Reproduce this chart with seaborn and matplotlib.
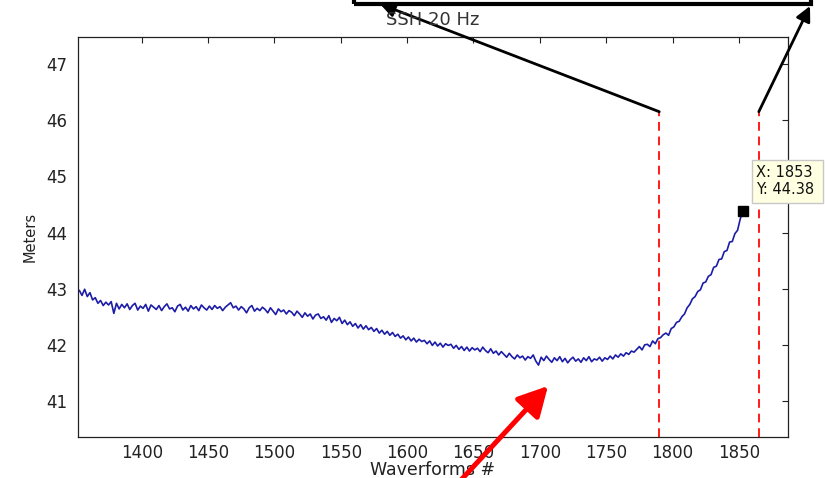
import numpy as np
import pandas as pd
import matplotlib
matplotlib.use("Agg")
import matplotlib.pyplot as plt
from matplotlib.patches import Rectangle, FancyArrowPatch
import seaborn as sns

# ---------------- data ----------------
waveform_start = 1353
waveform_step = 2
ssh_values = [
    42.97, 42.88, 42.99, 42.86, 42.93, 42.80, 42.84, 42.74, 42.79, 42.70,
    42.76, 42.71, 42.77, 42.56, 42.74, 42.64, 42.72, 42.66, 42.73, 42.63,
    42.70, 42.74, 42.62, 42.69, 42.65, 42.72, 42.60, 42.71, 42.67, 42.63,
    42.70, 42.61, 42.68, 42.73, 42.64, 42.66, 42.59, 42.69, 42.72, 42.62,
    42.67, 42.60, 42.70, 42.64, 42.68, 42.61, 42.71, 42.66, 42.62, 42.69,
    42.63, 42.70, 42.65, 42.68, 42.61, 42.67, 42.71, 42.75, 42.66, 42.69,
    42.62, 42.68, 42.64, 42.57, 42.66, 42.70, 42.60, 42.65, 42.61, 42.67,
    42.63, 42.57, 42.66, 42.60, 42.54, 42.64, 42.59, 42.62, 42.55, 42.61,
    42.58, 42.52, 42.60, 42.55, 42.49, 42.57, 42.51, 42.55, 42.46, 42.53,
    42.55, 42.47, 42.50, 42.44, 42.52, 42.40, 42.47, 42.43, 42.49, 42.38,
    42.44, 42.36, 42.41, 42.33, 42.38, 42.30, 42.36, 42.28, 42.34, 42.27,
    42.31, 42.24, 42.29, 42.21, 42.26, 42.19, 42.24, 42.17, 42.22, 42.15,
    42.19, 42.12, 42.16, 42.09, 42.14, 42.07, 42.12, 42.05, 42.10, 42.06,
    42.08, 42.02, 42.07, 41.99, 42.05, 41.98, 42.03, 41.96, 42.02, 41.99,
    42.01, 41.94, 41.99, 41.92, 41.97, 41.90, 41.96, 41.89, 41.95, 41.91,
    41.94, 41.88, 41.96, 41.90, 41.86, 41.93, 41.85, 41.89, 41.82, 41.88,
    41.83, 41.78, 41.85, 41.79, 41.75, 41.82, 41.77, 41.80, 41.73, 41.79,
    41.76, 41.82, 41.71, 41.64, 41.78, 41.72, 41.80, 41.74, 41.69, 41.77,
    41.72, 41.79, 41.70, 41.76, 41.68, 41.74, 41.78, 41.71, 41.75, 41.69,
    41.77, 41.72, 41.79, 41.70, 41.75, 41.73, 41.78, 41.71, 41.77, 41.74,
    41.80, 41.75, 41.82, 41.78, 41.84, 41.80, 41.86, 41.83, 41.89, 41.87,
    41.92, 41.97, 41.91, 42.00, 42.01, 41.97, 42.07, 42.02, 42.11, 42.13,
    42.18, 42.21, 42.17, 42.29, 42.32, 42.40, 42.42, 42.50, 42.55, 42.66,
    42.72, 42.82, 42.86, 42.95, 42.98, 43.10, 43.12, 43.22, 43.25, 43.38,
    43.40, 43.52, 43.53, 43.66, 43.68, 43.83, 43.84, 43.98, 44.04, 44.24,
    44.38,
]
waveforms = waveform_start + waveform_step * np.arange(len(ssh_values))

red_lines_x = [1790, 1865]
red_lines_top = 46.15
tip_x, tip_y = 1853, 44.38
x_ticks = [1400, 1450, 1500, 1550, 1600, 1650, 1700, 1750, 1800, 1850]
y_ticks = [41, 42, 43, 44, 45, 46, 47]
title_text = "SSH 20 Hz"
xlabel_text = "Waverforms #"
ylabel_text = "Meters"

df = pd.DataFrame({"Waveform": waveforms, "SSH": ssh_values})

# ---------------- style ----------------
sns.set_style("white")
plt.rcParams["font.family"] = ["DejaVu Sans"]

W, H = 825, 478
fig = plt.figure(figsize=(W / 100, H / 100), dpi=100)
ax = fig.add_axes([78 / W, 1 - 437 / H, (788 - 78) / W, (437 - 37) / H])

sns.lineplot(data=df, x="Waveform", y="SSH", ax=ax, color="#1c1ca8",
             linewidth=1.2, estimator=None, sort=False)

ylim = (40.36, 47.48)
ax.set_xlim(1352, 1887)
ax.set_ylim(*ylim)

for xv in red_lines_x:
    ax.plot([xv, xv], [ylim[0], red_lines_top], color="#ff1a1a",
            linestyle=(0, (4.5, 3)), linewidth=1.4, clip_on=False)

ax.plot([tip_x], [tip_y], marker="s", color="black", markersize=7.5)

ax.set_xticks(x_ticks)
ax.set_yticks(y_ticks)
ax.tick_params(axis="both", direction="in", length=4.5, width=0.8,
               top=True, right=True, labelsize=12, colors="#222222")
ax.tick_params(axis="x", pad=5)
ax.tick_params(axis="y", pad=8)
for sp in ax.spines.values():
    sp.set_color("#222222")
    sp.set_linewidth(0.9)

ax.set_title(title_text, fontsize=13, color="#333333", pad=9)
ax.set_xlabel(xlabel_text, fontsize=12.5, color="#222222", labelpad=-1)
ax.set_ylabel(ylabel_text, fontsize=10.5, color="#222222", labelpad=6)

# ---------------- annotations ----------------
def fx(px):
    return px / W

def fy(py):
    return 1 - py / H

# top black frame (cut off at top of image)
fig.patches.append(Rectangle((fx(354), fy(4)), fx(811) - fx(354), 0.2,
                             transform=fig.transFigure, fill=False,
                             edgecolor="black", linewidth=3, clip_on=True))

# black arrows from the red lines to the frame
for xv, target in zip(red_lines_x, [(380, 4), (810, 6)]):
    ax.annotate("", xy=(fx(target[0]), fy(target[1])), xycoords="figure fraction",
                xytext=(xv, red_lines_top), textcoords="data",
                arrowprops=dict(arrowstyle="-|>,head_length=0.9,head_width=0.45",
                                color="black", linewidth=2.0, shrinkA=0, shrinkB=0),
                annotation_clip=False)

# red arrow from bottom
fig.add_artist(FancyArrowPatch(
    (fx(461), fy(480)), (fx(548), fy(386)), transform=fig.transFigure,
    arrowstyle="-|>,head_length=1.5,head_width=0.8", color="#ff0000",
    linewidth=3.6, shrinkA=0, shrinkB=0, mutation_scale=12))

# data tip box
fig.patches.append(Rectangle((fx(752), fy(203)), fx(823) - fx(752), fy(160) - fy(203),
                             transform=fig.transFigure, facecolor="#ffffe1",
                             edgecolor="#c8c8c8", linewidth=1.0))
fig.text(fx(756), fy(173), f"X: {tip_x}", fontsize=10.5, color="#111111", va="center")
fig.text(fx(756), fy(190), f"Y: {tip_y}", fontsize=10.5, color="#111111", va="center")

fig.savefig("out.png", dpi=100)
